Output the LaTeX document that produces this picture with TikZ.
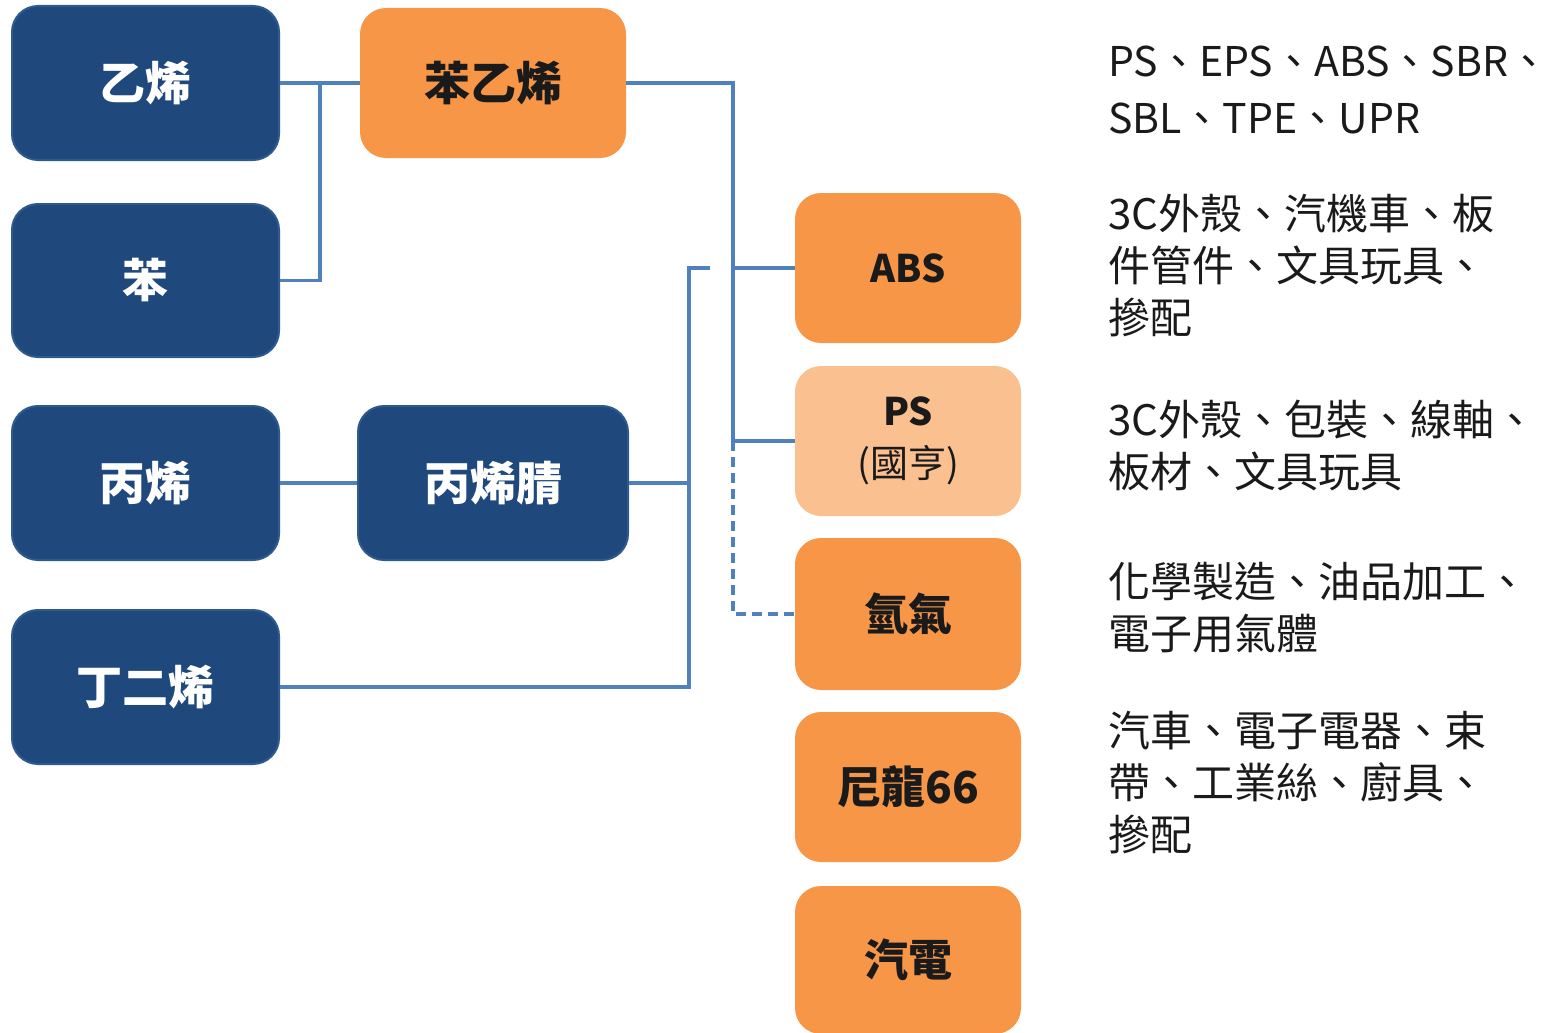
\documentclass[tikz,border=0pt]{standalone}
\usepackage{fontspec}
\setmainfont{Noto Sans CJK TC}
\definecolor{navy}{HTML}{1F497D}
\definecolor{navyedge}{HTML}{2F5A8E}
\definecolor{orng}{HTML}{F79646}
\definecolor{lorng}{HTML}{FAC08F}
\definecolor{linec}{HTML}{4F81BD}
\definecolor{txt}{HTML}{1A1A1A}
\tikzset{
  box/.style={rounded corners=26pt, minimum width=#1, inner sep=0pt},
  navybox/.style={box=267pt, fill=navy, draw=navyedge, line width=2pt, text=white, font=\fontsize{46}{50}\selectfont\bfseries},
  orbox/.style={box=226pt, fill=orng, draw=none, text=txt, font=\fontsize{44}{50}\selectfont\bfseries},
  conn/.style={draw=linec, line width=3.5pt},
  dconn/.style={conn, dash pattern=on 10pt off 6pt},
  desc/.style={anchor=north west, inner sep=0pt, align=left, text=txt, font=\fontsize{42}{52}\selectfont}
}
\begin{document}
\begin{tikzpicture}[x=1pt,y=-1pt]
\useasboundingbox (0,0) rectangle (1556,1033);
% left column
\node[navybox, minimum height=154pt] (yx) at (145.5,83) {乙烯};
\node[navybox, minimum height=153pt] (ben) at (145.5,280.5) {苯};
\node[navybox, minimum height=154pt] (bx) at (145.5,483) {丙烯};
\node[navybox, minimum height=154pt] (dd) at (145.5,687) {丁二烯};
% middle column
\node[orbox, minimum width=266pt, minimum height=150pt, font=\fontsize{46}{50}\selectfont\bfseries] (byx) at (493,83) {苯乙烯};
\node[navybox, minimum width=270pt, minimum height=154pt] (bxj) at (493,483) {丙烯腈};
% right column
\node[orbox, minimum height=150pt, font=\fontsize{38}{44}\selectfont\bfseries] (abs) at (908,268) {ABS};
\node[orbox, fill=lorng, minimum height=150pt, align=center, font=\fontsize{38}{52}\selectfont\bfseries] (ps) at (908,441) {PS\\{\mdseries (國亨)}};
\node[orbox, minimum height=152pt] (h2) at (908,614) {氫氣};
\node[orbox, minimum height=150pt] (ny) at (908,787) {尼龍66};
\node[orbox, minimum height=148pt] (qd) at (908,960) {汽電};
% connectors
\coordinate (j1) at (320,83);
\coordinate (t2) at (733,441);
\coordinate (t3) at (733,268);
\coordinate (u1) at (689,268);
\coordinate (u0) at (710,268);
\coordinate (u2) at (689,483);
\draw[conn] (yx.east) -- (byx.west);
\draw[conn] (ben.east) -| (j1);
\draw[conn] (byx.east) -| (t2) -- (ps.west);
\draw[conn] (t3) -- (abs.west);
\draw[dconn] (t2) |- (h2.west);
\draw[conn] (bx.east) -- (bxj.west);
\draw[conn] (bxj.east) -- (u2);
\draw[conn] (dd.east) -| (u1) -- (u0);
% descriptions
\node[desc, font=\fontsize{41}{57}\selectfont] (d1) at (1108,46) {PS、EPS、ABS、SBR\makebox[0.5em][l]{、}\\SBL、TPE、UPR};
\node[desc] (d2) at (1108,194) {3C外殼、汽機車、板\\件管件、文具玩具、\\摻配};
\node[desc] (d3) at (1108,400) {3C外殼、包裝、線軸、\\板材、文具玩具};
\node[desc] (d4) at (1108,562) {化學製造、油品加工、\\電子用氣體};
\node[desc] (d5) at (1108,711) {汽車、電子電器、束\\帶、工業絲、廚具、\\摻配};
\end{tikzpicture}
\end{document}
